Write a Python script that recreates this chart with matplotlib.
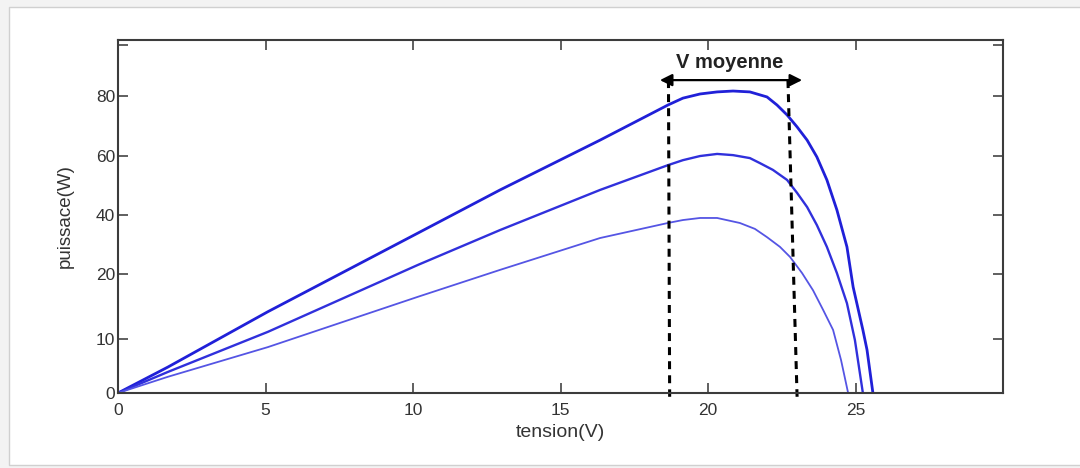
import numpy as np
import matplotlib.pyplot as plt
from matplotlib.patches import Rectangle

plt.rcParams['font.family'] = ['Liberation Sans', 'DejaVu Sans']

# tension (V) / puissance (W)
v_haut = [0, 1.69, 5.08, 10.17, 12.95, 16.34, 18.64, 19.15, 19.73, 20.31, 20.85, 21.42, 22.0, 22.34,
          22.68, 23.02, 23.36, 23.69, 24.03, 24.37, 24.71, 24.92, 25.25, 25.39, 25.59]
p_haut = [0, 4.8, 14.2, 33.9, 48.5, 65.3, 77.0, 79.3, 80.7, 81.4, 81.7, 81.4, 79.7, 77.0,
          73.7, 69.7, 65.3, 59.7, 51.9, 41.7, 29.2, 18.0, 11.4, 8.0, 0]

v_milieu = [0, 1.69, 5.08, 10.17, 12.95, 16.34, 18.64, 19.15, 19.73, 20.31, 20.85, 21.42, 21.76,
            22.2, 22.68, 23.02, 23.36, 23.69, 24.03, 24.37, 24.71, 24.98, 25.25]
p_milieu = [0, 3.9, 11.1, 23.1, 34.9, 48.5, 56.9, 58.6, 60.0, 60.7, 60.3, 59.3, 57.6,
            55.3, 51.9, 47.5, 42.7, 36.6, 29.2, 20.3, 15.5, 9.8, 0]

v_bas = [0, 1.69, 5.08, 10.17, 12.95, 16.34, 18.64, 19.15, 19.73, 20.31, 21.08, 21.59, 22.0,
         22.44, 22.78, 23.19, 23.56, 23.9, 24.24, 24.51, 24.75]
p_bas = [0, 3.0, 8.5, 16.5, 21.4, 32.2, 37.3, 38.3, 39.0, 39.0, 37.3, 35.3, 32.5,
         29.2, 25.8, 20.3, 17.5, 14.5, 11.4, 6.1, 0]

x_ticks = [0, 5, 10, 15, 20, 25]
y_ticks = [0, 10, 20, 40, 60, 80, 97.3]
y_labels = ['0', '10', '20', '40', '60', '80', '']

v_moy_gauche = [18.66, 18.70]
v_moy_droite = [22.71, 23.02]
fleche = (18.37, 23.19)

# uneven y axis of the original figure
w_pts = [-10, 0, 10, 20, 40, 60, 80, 100]
s_pts = [-54, 0, 54, 119, 178, 237, 297, 356]

def fwd(w):
    return np.interp(w, w_pts, s_pts)

def inv(s):
    return np.interp(s, s_pts, w_pts)

fig = plt.figure(figsize=(10.8, 4.68), dpi=100, facecolor='#f3f3f3')
fig.patches.append(Rectangle((9 / 1080, 0.006), 1.0, 1 - 7 / 468 - 0.006, transform=fig.transFigure,
                             facecolor='white', edgecolor='#d0d0d0', lw=1.0, zorder=-10))
ax = fig.add_axes([118 / 1080, 1 - 393 / 468, 885 / 1080, 353 / 468])
ax.set_yscale('function', functions=(fwd, inv))

ax.plot(v_haut, p_haut, color='#2020d8', lw=2.0)
ax.plot(v_milieu, p_milieu, color='#3030dc', lw=1.7)
ax.plot(v_bas, p_bas, color='#5555e4', lw=1.3)

top = 85.4
ax.plot(v_moy_gauche, [top, -0.7], 'k--', lw=2.2, dashes=(2.6, 2.0), clip_on=False)
ax.plot(v_moy_droite, [top, -0.7], 'k--', lw=2.2, dashes=(2.6, 2.0), clip_on=False)
ax.annotate('', xy=(fleche[0], top), xytext=(fleche[1], top),
            arrowprops=dict(arrowstyle='<|-|>', color='black', lw=1.6, mutation_scale=18,
                            shrinkA=0, shrinkB=0))
ax.text(20.75, 91.5, 'V moyenne', ha='center', va='center', fontsize=14.5, fontweight='bold',
        color='#222222')

ax.set_xlim(0, 30)
ax.set_ylim(0, 99)
ax.set_xticks(x_ticks)
ax.set_yticks(y_ticks)
ax.set_yticklabels(y_labels)
ax.minorticks_off()
ax.tick_params(direction='in', length=7, width=1.2, top=True, right=True, colors='#444444',
               labelcolor='#333333', labelsize=12.5)
ax.tick_params(axis='x', pad=7)
ax.tick_params(axis='y', pad=2)
for s in ax.spines.values():
    s.set_color('#3c3c3c')
    s.set_linewidth(1.5)

ax.set_xlabel('tension(V)', fontsize=14, color='#333333')
ax.set_ylabel('puissace(W)', fontsize=13.5, color='#333333')
ax.xaxis.set_label_coords(0.5, -0.088)
ax.yaxis.set_label_coords(-0.05, 0.5)

fig.savefig('out.png', dpi=100, facecolor=fig.get_facecolor())
